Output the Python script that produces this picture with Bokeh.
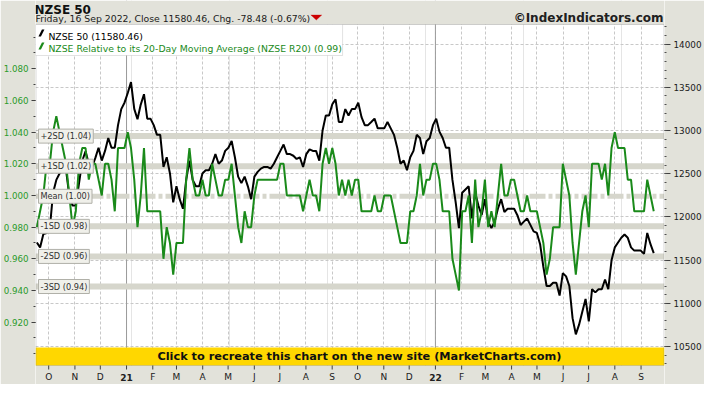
import pandas as pd
from bokeh.plotting import figure
from bokeh.models import (Range1d, LinearAxis, FixedTicker, PrintfTickFormatter, Grid,
                          Span, Label, BoxAnnotation, PolyAnnotation)
from bokeh.embed import file_html
from bokeh.resources import INLINE

# ---------------- data ----------------
first_date = "2020-09-17"
last_date = "2022-09-16"

nzse50 = [
    11703, 11647, 11800, 11814, 11870, 12280, 12428, 12503, 12540, 12540, 12243, 12131, 12131,
    12391, 12650, 12760, 12615, 12580, 12680, 12801, 12652, 12764, 12913, 12801, 12801, 13062,
    13248, 13322, 13434, 13560, 13250, 13130, 13300, 13420, 13137, 13137, 13062, 12950,
    12950, 12578, 12690, 12503, 12168, 12354, 12205, 12094, 12428, 12652, 12428, 12354, 12354,
    12503, 12540, 12540, 12615, 12727, 12615, 12652, 12764, 12801, 12880, 12690, 12466, 12391,
    12466, 12354, 12205, 12466, 12521, 12559, 12578, 12578, 12559, 12615, 12690, 12764,
    12838, 12727, 12727, 12708, 12671, 12690, 12578, 12727, 12782, 12764, 12764, 12652, 13000,
    13173, 13173, 13304, 13360, 13099, 13099, 13248, 13173, 13248, 13248, 13322, 13155, 13062,
    13062, 13099, 13137, 13025, 13025, 13025, 13099, 13025, 12950, 12801, 12615, 12652,
    12540, 12690, 12764, 12950, 12913, 12727, 12875, 12913, 13062, 13137, 12987, 12913, 12801,
    12801, 12428, 12168, 11870, 12280, 12317, 12354, 11982, 12280, 12131, 12020, 12205, 11945,
    11870, 11945, 12094, 12205, 12056, 12094, 12094, 12094, 12020, 11907, 11945, 11982,
    11908, 11833, 11814, 11684, 11423, 11200, 11200, 11238, 11238, 11089, 11349, 11312, 11200,
    10828, 10641, 10753, 10902, 11051, 10790, 11163, 11126, 11163, 11163, 11275, 11163, 11498,
    11647, 11703, 11758, 11796, 11758, 11647, 11610, 11610, 11610, 11572, 11814, 11684,
    11580.46,
]

r20 = [
    0.98, 0.99, 1.00, 1.02, 1.02, 1.04, 1.05, 1.04, 1.03, 1.02, 1.00, 0.98, 0.99,
    1.02, 1.03, 1.03, 1.01, 1.02, 1.02, 1.01, 1.00, 1.02, 1.02, 1.01, 0.99, 1.03,
    1.03, 1.03, 1.04, 1.03, 1.01, 0.98, 1.00, 1.03, 0.99, 0.99, 0.99, 0.99,
    0.99, 0.96, 0.98, 0.97, 0.95, 0.97, 0.97, 0.97, 1.01, 1.03, 1.01, 1.00, 1.00,
    1.01, 1.00, 1.00, 1.02, 1.01, 1.00, 1.00, 1.01, 1.01, 1.02, 1.00, 0.98, 0.97,
    0.99, 0.98, 0.98, 1.00, 1.01, 1.01, 1.01, 1.01, 1.01, 1.01, 1.01, 1.02,
    1.02, 1.00, 1.00, 1.00, 1.00, 1.00, 0.99, 1.00, 1.01, 1.00, 1.00, 0.99, 1.02,
    1.03, 1.02, 1.03, 1.02, 1.00, 1.01, 1.00, 1.01, 1.00, 1.01, 1.01, 0.99, 0.99,
    0.99, 0.99, 1.00, 0.99, 0.99, 1.00, 1.00, 1.00, 0.99, 0.98, 0.97, 0.97,
    0.97, 0.99, 0.99, 1.00, 1.02, 1.00, 1.01, 1.01, 1.02, 1.02, 1.01, 0.99, 0.99,
    0.99, 0.96, 0.95, 0.94, 0.99, 0.99, 1.00, 0.97, 1.01, 0.98, 0.99, 1.01, 0.98,
    0.99, 0.98, 1.00, 1.02, 1.00, 1.00, 1.01, 1.01, 1.00, 0.99, 0.99, 1.00,
    0.99, 0.99, 0.99, 0.98, 0.97, 0.95, 0.96, 0.98, 0.98, 0.98, 1.02, 1.01, 1.00,
    0.97, 0.95, 0.97, 0.99, 1.00, 0.98, 1.02, 1.02, 1.02, 1.01, 1.02, 1.00, 1.03,
    1.04, 1.03, 1.03, 1.03, 1.01, 1.01, 0.99, 0.99, 0.99, 0.99, 1.01, 1.00,
    0.99,
]

r20_mean = 0.9995
r20_sd = 0.019
band_steps = [2, 1, -1, -2, -3]
band_names = {2: "+2SD", 1: "+1SD", -1: "-1SD", -2: "-2SD", -3: "-3SD"}

left_ticks = [0.92, 0.94, 0.96, 0.98, 1.00, 1.02, 1.04, 1.06, 1.08]
left_minor = [round(0.90 + 0.01 * i, 2) for i in range(21)]
right_ticks = [10500, 11000, 11500, 12000, 12500, 13000, 13500, 14000]
right_minor = list(range(10300, 14300, 100))
month_letters = ["J", "F", "M", "A", "M", "J", "J", "A", "S", "O", "N", "D"]
month_starts = pd.date_range("2020-10-01", "2022-09-01", freq="MS")
year_starts = ["2021-01-01", "2022-01-01"]

title_text = "NZSE 50"
subtitle_text = "Friday, 16 Sep 2022, Close 11580.46, Chg. -78.48 (-0.67%)"
copyright_text = "\u00a9IndexIndicators.com"
legend1 = "NZSE 50 (11580.46)"
legend2 = "NZSE Relative to its 20-Day Moving Average (NZSE R20) (0.99)"
banner_text = "Click to recreate this chart on the new site (MarketCharts.com)"

# ---------------- layout constants (canvas px) ----------------
W, H = 704, 384
FL, FR = 32, 667            # frame left / right
CT, CB = 24, 365            # chart top / bottom inside the frame
L_BOT, L_TOP = 0.8926, 1.108       # left scale at chart bottom / top
R_BOT, R_TOP = 10280.0, 14227.0    # right scale at chart bottom / top
X_START = pd.Timestamp("2020-09-15 10:00").value / 1e6
X_END = pd.Timestamp("2022-09-28 17:00").value / 1e6

lpp = (L_TOP - L_BOT) / (CB - CT)
rpp = (R_TOP - R_BOT) / (CB - CT)
xpp = (X_END - X_START) / (FR - FL)


def cy(c):  # canvas y -> left-axis data
    return L_TOP - (c - CT) * lpp


def cx(c):  # canvas x -> x data
    return X_START + (c - FL) * xpp


def ms(s):
    return pd.Timestamp(s).value / 1e6


dates = pd.date_range(first_date, last_date, periods=len(nzse50))
x = [d.value / 1e6 for d in dates]
month_ms = [int(d.value // 10**6) for d in month_starts]

FONT = "DejaVu Sans"
GREEN = "#1a8a1a"
BAND = "#d6d6cc"
BG = "#e2e2da"

p = figure(width=W, height=H, title=None, output_backend="svg", toolbar_location=None,
           x_axis_location=None,
           x_range=Range1d(X_START, X_END),
           y_range=Range1d(cy(H), cy(0)),
           min_border_left=FL, min_border_right=W - FR, min_border_top=0, min_border_bottom=0,
           background_fill_color="white", border_fill_color=BG, outline_line_color=None)
p.extra_y_ranges = {"price": Range1d(R_BOT - (H - CB) * rpp, R_TOP + CT * rpp)}

# left axis
ya = p.yaxis[0]
ya.ticker = FixedTicker(ticks=left_ticks, minor_ticks=left_minor)
ya.formatter = PrintfTickFormatter(format="%.3f")
ya.major_label_text_color = "#2a9a2a"
ya.major_label_text_font = FONT
ya.major_label_text_font_size = "8.7px"
ya.major_label_standoff = 3
ya.axis_line_color = None
ya.major_tick_line_color = "#404040"
ya.major_tick_in = 0
ya.major_tick_out = 4
ya.minor_tick_line_color = "#404040"
ya.minor_tick_in = 0
ya.minor_tick_out = 2

# right axis
ra = LinearAxis(y_range_name="price")
ra.ticker = FixedTicker(ticks=right_ticks, minor_ticks=right_minor)
ra.formatter = PrintfTickFormatter(format="%d")
ra.major_label_text_color = "#202020"
ra.major_label_text_font = FONT
ra.major_label_text_font_size = "8.8px"
ra.major_label_standoff = 3
ra.axis_line_color = None
ra.major_tick_line_color = "#404040"
ra.major_tick_in = 0
ra.major_tick_out = 6
ra.minor_tick_line_color = "#505050"
ra.minor_tick_in = 0
ra.minor_tick_out = 2
p.add_layout(ra, "right")

# grids
p.add_layout(Grid(dimension=0, ticker=FixedTicker(ticks=month_ms),
                  grid_line_color="#c8c8c8", grid_line_dash="3 2"))
for g in p.ygrid:
    g.ticker = FixedTicker(ticks=right_ticks)
    g.y_range_name = "price"
    g.grid_line_color = "#c8c8c8"
    g.grid_line_dash = "3 2"

for ys in year_starts:
    p.add_layout(Span(location=ms(ys), dimension="height", line_color="#9a9a9a",
                      line_width=1, level="underlay"))

# SD bands
for k in band_steps:
    p.add_layout(Span(location=r20_mean + k * r20_sd, dimension="width",
                      line_color=BAND, line_width=6, level="underlay"))
p.add_layout(Span(location=r20_mean, dimension="width", line_color=BAND, line_width=5,
                  line_dash="16 3 4 3", level="underlay"))

# series
p.line(x, nzse50, y_range_name="price", line_color="black", line_width=2)
p.line(x, r20, line_color=GREEN, line_width=2)

# header / footer strips, banner, chart border
p.add_layout(BoxAnnotation(bottom=L_TOP, fill_color=BG, fill_alpha=1, line_color=None))
p.add_layout(BoxAnnotation(top=L_BOT, fill_color=BG, fill_alpha=1, line_color=None))
banner_top = cy(CB - 18)
p.add_layout(BoxAnnotation(bottom=L_BOT, top=banner_top, fill_color="#ffd700", fill_alpha=1,
                           line_color=None))
p.add_layout(BoxAnnotation(bottom=L_BOT, top=L_TOP, left=cx(FL + 0.5), right=cx(FR - 0.5),
                           fill_alpha=0, line_color="#7a7a7a", line_width=1))
p.add_layout(Label(x=cx(359), y=(L_BOT + banner_top) / 2, text=banner_text,
                   text_align="center", text_baseline="middle", text_font=FONT,
                   text_font_style="bold", text_font_size="11.3px", text_color="#101010"))

# band labels
for k in band_steps + [0]:
    v = r20_mean + k * r20_sd
    name = "Mean" if k == 0 else band_names[k]
    p.add_layout(Label(x=cx(FL + 3), y=v, text=f"{name} ({v:.2f})",
                       text_baseline="middle", text_font=FONT, text_font_size="8.2px",
                       text_color="#303030", background_fill_color="#f0f0ea",
                       border_line_color="#b0b0a8", padding=2))

# x-axis ticks and month labels
for d, m in zip(month_starts, month_ms):
    p.add_layout(BoxAnnotation(left=m - 0.5 * xpp, right=m + 0.5 * xpp, top=L_BOT,
                               bottom=cy(CB + 4), fill_color="#404040", fill_alpha=1,
                               line_color=None))
    if d.month == 1:
        txt, style = f"{d.year % 100:02d}", "bold"
    else:
        txt, style = month_letters[d.month - 1], "normal"
    p.add_layout(Label(x=m, y=cy(376.5), text=txt, text_align="center",
                       text_baseline="alphabetic", text_font=FONT, text_font_size="9px",
                       text_font_style=style, text_color="#202020"))

# header texts
p.add_layout(Label(x=cx(31), y=cy(9), text=title_text, text_font=FONT,
                   text_font_style="bold", text_font_size="12px", text_color="#101010",
                   text_baseline="alphabetic"))
p.add_layout(Label(x=cx(32), y=cy(17.5), text=subtitle_text, text_font=FONT,
                   text_font_size="9.3px", text_color="#202020", text_baseline="alphabetic"))
p.add_layout(PolyAnnotation(xs=[cx(310), cx(321), cx(315.5)],
                            ys=[cy(14.5), cy(14.5), cy(19.5)],
                            fill_color="#cc0000", fill_alpha=1, line_color="#cc0000"))
p.add_layout(Label(x=cx(666), y=cy(17.5), text=copyright_text, text_font=FONT,
                   text_font_style="bold", text_font_size="12px", text_color="#202020",
                   text_align="right", text_baseline="alphabetic"))

# legend
p.add_layout(BoxAnnotation(left=cx(FL), right=cx(342), top=cy(CT), bottom=cy(CT + 31),
                           fill_color="white", fill_alpha=1, line_color="#a0a0a0"))
p.add_layout(PolyAnnotation(xs=[cx(35), cx(37.5), cx(41), cx(38.5)],
                            ys=[cy(CT + 12), cy(CT + 12), cy(CT + 5), cy(CT + 5)],
                            fill_color="black", fill_alpha=1, line_color=None))
p.add_layout(PolyAnnotation(xs=[cx(35), cx(37.5), cx(41), cx(38.5)],
                            ys=[cy(CT + 25), cy(CT + 25), cy(CT + 18), cy(CT + 18)],
                            fill_color=GREEN, fill_alpha=1, line_color=None))
p.add_layout(Label(x=cx(45), y=cy(CT + 11.7), text=legend1, text_font=FONT,
                   text_font_size="9.3px", text_color="#000000", text_baseline="alphabetic"))
p.add_layout(Label(x=cx(45), y=cy(CT + 24.3), text=legend2, text_font=FONT,
                   text_font_size="9.3px", text_color=GREEN, text_baseline="alphabetic"))

open("out.html", "w").write(file_html(p, INLINE))
